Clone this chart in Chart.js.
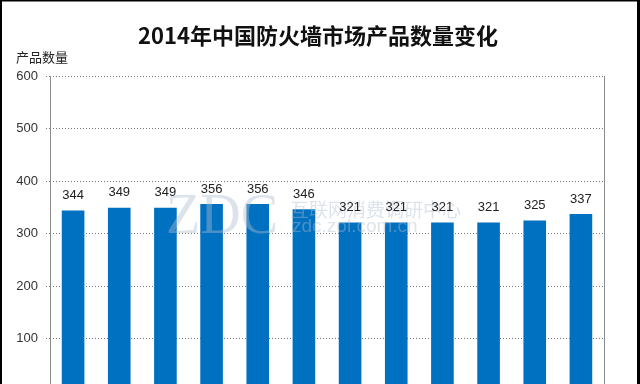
<!DOCTYPE html>
<html>
<head>
<meta charset="utf-8">
<script src="https://cdn.jsdelivr.net/npm/chart.js@4.4.1/dist/chart.umd.min.js"></script>
<style>
  html, body { margin: 0; padding: 0; background: #fff; overflow: hidden; }
  #wrap { position: relative; width: 640px; height: 430px; }
</style>
</head>
<body>
<div id="wrap"><canvas id="c" width="640" height="430"></canvas></div>
<script>
const titleText = '2014年中国防火墙市场产品数量变化';
const yAxisTitle = '产品数量';
const categories = ['1月','2月','3月','4月','5月','6月','7月','8月','9月','10月','11月','12月'];
const productCounts = [344, 349, 349, 356, 356, 346, 321, 321, 321, 321, 325, 337];
const yTicks = [0, 100, 200, 300, 400, 500, 600];
const watermarkBig = 'ZDC';
const watermarkCn = '互联网消费调研中心';
const watermarkUrl = 'zdc.zol.com.cn';

const decor = {
  id: 'decor',
  afterDatasetsDraw(chart) {
    const ctx = chart.ctx;
    const a = chart.chartArea;
    ctx.save();
    // watermark
    ctx.fillStyle = 'rgba(175,188,208,0.42)';
    ctx.textBaseline = 'middle';
    ctx.textAlign = 'left';
    ctx.font = '56px "Liberation Serif"';
    ctx.fillText(watermarkBig, a.left + 116, a.top + 142);
    ctx.font = '19px "Noto Sans CJK SC"';
    ctx.fillText(watermarkCn, a.left + 240, a.top + 134);
    ctx.font = '19px "Liberation Sans"';
    ctx.fillText(watermarkUrl, a.left + 242, a.top + 151);
    // data labels
    const meta = chart.getDatasetMeta(0);
    ctx.fillStyle = '#222';
    ctx.font = '13px "Liberation Sans"';
    ctx.textAlign = 'center';
    meta.data.forEach((bar, i) => {
      ctx.fillText(String(productCounts[i]), bar.x, bar.y - 15);
    });
    ctx.restore();
  },
  afterDraw(chart) {
    const ctx = chart.ctx;
    const a = chart.chartArea;
    ctx.save();
    // plot frame: left axis line and right border, solid
    ctx.strokeStyle = '#8c8c8c';
    ctx.lineWidth = 1;
    ctx.setLineDash([]);
    ctx.beginPath();
    ctx.moveTo(Math.round(a.left) + 0.5, a.top);
    ctx.lineTo(Math.round(a.left) + 0.5, a.bottom);
    ctx.moveTo(Math.round(a.right) + 0.5, a.top);
    ctx.lineTo(Math.round(a.right) + 0.5, a.bottom);
    ctx.stroke();
    // title
    ctx.fillStyle = '#111';
    ctx.textAlign = 'center';
    ctx.textBaseline = 'middle';
    ctx.font = 'bold 22px "Noto Sans CJK SC"';
    ctx.fillText(titleText, 318, 36);
    // y axis title
    ctx.textAlign = 'left';
    ctx.font = '13px "Noto Sans CJK SC"';
    ctx.fillStyle = '#222';
    ctx.fillText(yAxisTitle, 16, 57);
    // outer black frame
    ctx.fillStyle = '#000';
    ctx.fillRect(0, 0, 640, 1.5);
    ctx.fillRect(0, 0, 2, chart.height);
    ctx.fillRect(637, 0, 3, chart.height);
    ctx.restore();
  }
};

new Chart(document.getElementById('c'), {
  type: 'bar',
  data: {
    labels: categories,
    datasets: [{
      data: productCounts,
      backgroundColor: '#0070c0',
      borderWidth: 0,
      categoryPercentage: 1.0,
      barPercentage: 0.49
    }]
  },
  options: {
    responsive: false,
    animation: false,
    devicePixelRatio: 1,
    layout: { padding: { left: 0, right: 36, top: 76, bottom: 15 } },
    plugins: { legend: { display: false }, title: { display: false }, tooltip: { enabled: false } },
    scales: {
      x: {
        grid: { display: false },
        border: { color: '#8c8c8c' },
        ticks: { color: '#333', font: { family: 'Noto Sans CJK SC', size: 13 } },
        afterFit(scale) { scale.height = 24; }
      },
      y: {
        min: yTicks[0],
        max: yTicks[yTicks.length - 1],
        afterBuildTicks(scale) { scale.ticks = yTicks.map(v => ({ value: v })); },
        grid: { color: '#7a7a7a', lineWidth: 1, tickLength: 4, tickBorderDash: [1, 2] },
        border: { display: false, dash: [1, 2] },
        ticks: { color: '#333', padding: 8, font: { family: 'Liberation Sans', size: 13 } },
        afterFit(scale) { scale.width = 50; }
      }
    }
  },
  plugins: [decor]
});
</script>
</body>
</html>
